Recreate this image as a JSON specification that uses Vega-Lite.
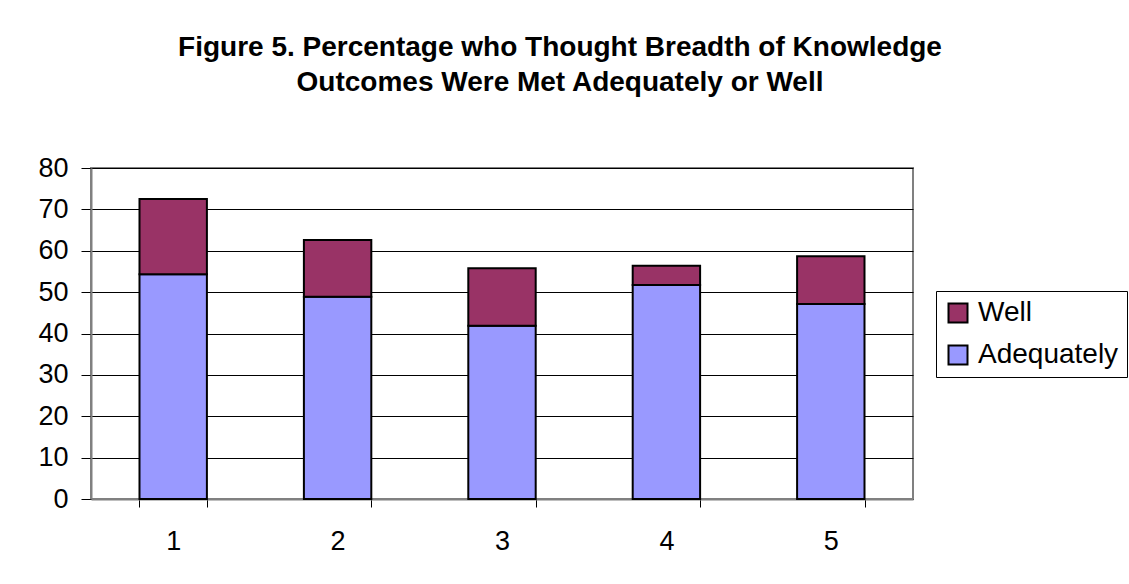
{
  "$schema": "https://vega.github.io/schema/vega-lite/v6.json",
  "autosize": "none",
  "width": 822,
  "height": 331,
  "padding": {"left": 91, "top": 168, "right": 216, "bottom": 85},
  "background": "white",
  "title": {
    "text": ["Figure 5. Percentage who Thought Breadth of Knowledge", "Outcomes Were Met Adequately or Well"],
    "font": "Liberation Sans",
    "fontSize": 28,
    "fontWeight": "bold",
    "color": "black",
    "anchor": "middle",
    "dx": 58,
    "offset": 57,
    "lineHeight": 35
  },
  "config": {
    "view": {"stroke": "#808080", "strokeWidth": 2},
    "font": "Liberation Sans"
  },
  "data": {
    "values": [
      {"group": "1", "level": "Adequately", "value": 54.3},
      {"group": "1", "level": "Well", "value": 18.2},
      {"group": "2", "level": "Adequately", "value": 48.9},
      {"group": "2", "level": "Well", "value": 13.7},
      {"group": "3", "level": "Adequately", "value": 41.9},
      {"group": "3", "level": "Well", "value": 13.9},
      {"group": "4", "level": "Adequately", "value": 51.7},
      {"group": "4", "level": "Well", "value": 4.7},
      {"group": "5", "level": "Adequately", "value": 47.1},
      {"group": "5", "level": "Well", "value": 11.6}
    ]
  },
  "mark": {"type": "bar", "stroke": "black", "strokeWidth": 2},
  "encoding": {
    "x": {
      "field": "group",
      "type": "ordinal",
      "title": null,
      "scale": {"paddingInner": 0.59, "paddingOuter": 0.295},
      "axis": {
        "labelAngle": 0,
        "labelFont": "Liberation Sans",
        "labelFontSize": 27,
        "labelColor": "black",
        "labelPadding": 21,
        "tickBand": "extent",
        "tickSize": 8,
        "tickColor": "black",
        "domainColor": "#808080",
        "domainWidth": 2
      }
    },
    "y": {
      "field": "value",
      "type": "quantitative",
      "stack": "zero",
      "title": null,
      "scale": {"domain": [0, 80]},
      "axis": {
        "values": [0, 10, 20, 30, 40, 50, 60, 70, 80],
        "labelFont": "Liberation Sans",
        "labelFontSize": 27,
        "labelColor": "black",
        "labelPadding": 13,
        "tickSize": 10,
        "tickColor": "black",
        "domainColor": "#808080",
        "domainWidth": 2,
        "grid": true,
        "gridColor": "black",
        "gridWidth": 1
      }
    },
    "color": {
      "field": "level",
      "type": "nominal",
      "scale": {"domain": ["Well", "Adequately"], "range": ["#993366", "#9999FF"]},
      "legend": {
        "title": null,
        "orient": "none",
        "legendX": 845,
        "legendY": 123,
        "symbolType": "square",
        "symbolSize": 361,
        "symbolStrokeColor": "black",
        "symbolStrokeWidth": 2,
        "symbolOpacity": 1,
        "labelFont": "Liberation Sans",
        "labelFontSize": 28,
        "labelColor": "black",
        "labelOffset": 6,
        "rowPadding": 14,
        "strokeColor": "black",
        "padding": 8,
        "fillColor": "white"
      }
    },
    "order": {"field": "level", "sort": "ascending"}
  }
}
